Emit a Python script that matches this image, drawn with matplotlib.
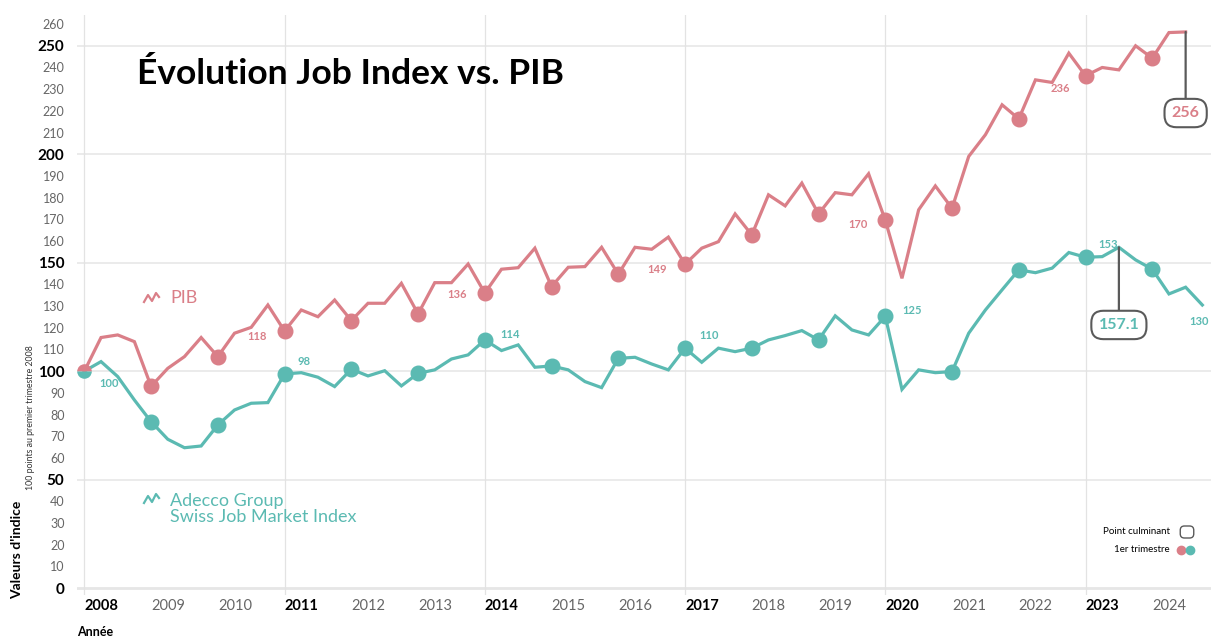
# Évolution Job Index vs. PIB
import numpy as np
import pandas as pd
import matplotlib
matplotlib.use("Agg")
import matplotlib.pyplot as plt
from matplotlib.lines import Line2D

plt.rcParams['font.family'] = ['Lato', 'DejaVu Sans']

# quarterly data, 2008Q1 = 100
quarters = pd.period_range("2008Q1", "2024Q4", freq="Q")
pib = [100, 115.5, 116.7, 113.6, 93, 101.3, 106.7, 115.5,
       106.7, 117.5, 120.2, 130.5, 118.5, 128.2, 125.1, 132.8,
       123.3, 131.3, 131.3, 140.5, 126.4, 140.8, 140.8, 149.4,
       136, 147, 147.7, 156.7, 139, 147.9, 148.2, 157.1,
       144.7, 157.1, 156.2, 161.8, 149.3, 156.7, 159.7, 172.5,
       162.8, 181.3, 176.2, 186.7, 172.5, 182.3, 181.3, 191,
       169.6, 142.8, 174.4, 185.4, 175.1, 199, 209, 222.8,
       216.3, 234.3, 233.1, 246.6, 236.2, 240, 238.9, 250,
       244.3, 256.1, 256.4]
adecco = [100, 104.4, 97.5, 86.7, 76.7, 68.6, 64.7, 65.5,
          75.2, 82.1, 85.2, 85.5, 98.7, 99.3, 97.2, 92.9,
          100.9, 97.8, 100.2, 93.2, 99, 100.6, 105.6, 107.5,
          114.4, 109.5, 112.1, 101.8, 102.4, 100.6, 95.2, 92.4,
          105.9, 106.4, 103.3, 100.6, 110.6, 104.1, 110.6, 109,
          110.6, 114.4, 116.4, 118.7, 114.4, 125.5, 119, 116.7,
          125.3, 91.6, 100.6, 99.3, 99.8, 117.5, 128.2, 137.5,
          146.7, 145.4, 147.5, 154.7, 152.5, 152.8, 157.1, 151.3,
          147, 135.6, 138.7, 130.5]

# labelled first-quarter values
pib_labels = {"2011Q1": "118", "2014Q1": "136", "2017Q1": "149",
              "2020Q1": "170", "2023Q1": "236"}
adecco_labels = {"2008Q1": "100", "2011Q1": "98", "2014Q1": "114",
                 "2017Q1": "110", "2020Q1": "125", "2023Q1": "153",
                 "2024Q4": "130"}
peaks = {"pib": ("2024Q3", "256"), "adecco": ("2023Q3", "157.1")}

RED = "#DA7F88"
TEAL = "#5BBAB2"
BOX = "#5a5a5a"

x = np.array([q.year + (q.quarter - 1) / 4 for q in quarters])
xp = x[:len(pib)]
xa = x[:len(adecco)]
q1 = np.array([q.quarter == 1 for q in quarters])

fig = plt.figure(figsize=(12.11, 6.37), dpi=100)
ax = fig.add_axes([77 / 1211, 42 / 637, 1 - 77 / 1211, (595 - 15) / 637])
ax.set_xlim(2007.89, 2024.88)
ax.set_ylim(-3.2, 264.2)
for s in ax.spines.values():
    s.set_visible(False)

# grid
for v in range(0, 251, 50):
    ax.axhline(v, color="#e6e6e6", lw=1.1 if v else 2.0, zorder=0)
for yr in range(2008, 2024, 3):
    ax.axvline(yr, color="#e3e3e3", lw=0.9, zorder=0)

ax.plot(xa, adecco, color=TEAL, lw=2.3, zorder=3, solid_joinstyle="miter")
ax.plot(xp, pib, color=RED, lw=2.3, zorder=3, solid_joinstyle="miter")
qa = q1[:len(adecco)]
qp = q1[:len(pib)]
ax.plot(xa[qa][1:], np.array(adecco)[qa][1:], "o", color=TEAL, ms=10.5, zorder=4)
ax.plot(xp[qp][1:], np.array(pib)[qp][1:], "o", color=RED, ms=10.5, zorder=4)
ax.plot(xp[0], pib[0], "o", color=RED, ms=10.5, fillstyle="top",
        markerfacecoloralt=TEAL, markeredgewidth=0, zorder=5)

qidx = {str(q): i for i, q in enumerate(quarters)}
pib_off = {"2011Q1": (-13, -4), "2014Q1": (-13, -1), "2017Q1": (-13, -4),
           "2020Q1": (-13, -3), "2023Q1": (-11, -9)}
ad_off = {"2008Q1": (11, -9), "2011Q1": (9, 9), "2014Q1": (11, 4),
          "2017Q1": (10, 9), "2020Q1": (12, 4), "2023Q1": (9, 9),
          "2024Q4": (-2, -12)}
for k, t in pib_labels.items():
    i = qidx[k]
    dx, dy = pib_off[k]
    ax.annotate(t, (x[i], pib[i]), xytext=(dx, dy), textcoords="offset points",
                ha="right" if dx < 0 else "left", va="center",
                color=RED, fontsize=8, fontweight="bold")
for k, t in adecco_labels.items():
    i = qidx[k]
    dx, dy = ad_off[k]
    ax.annotate(t, (x[i], adecco[i]), xytext=(dx, dy), textcoords="offset points",
                ha="left" if dx > 0 else "center", va="center",
                color=TEAL, fontsize=8, fontweight="bold")

# peak boxes
for key, (q, t) in peaks.items():
    i = qidx[q]
    series = pib if key == "pib" else adecco
    col = RED if key == "pib" else TEAL
    ty = 219 if key == "pib" else 121.3
    ax.annotate(t, (x[i], series[i]), xytext=(x[i], ty), textcoords="data",
                ha="center", va="center", color=col, fontsize=11.5,
                fontweight="bold", zorder=6,
                bbox=dict(boxstyle="round,pad=0.45,rounding_size=0.75",
                          fc="white", ec=BOX, lw=1.5),
                arrowprops=dict(arrowstyle="-", color=BOX, lw=1.6,
                                shrinkA=0, shrinkB=0))

# ticks
yt = list(range(0, 261, 10))
ax.set_yticks(yt)
ax.set_yticklabels([str(v) for v in yt])
for v, lab in zip(yt, ax.get_yticklabels()):
    if v % 50 == 0:
        lab.set_fontweight("bold")
        lab.set_fontsize(11)
        lab.set_color("black")
    else:
        lab.set_fontsize(9)
        lab.set_color("#666666")
years = list(range(2008, 2025))
ax.set_xticks(years)
ax.set_xticklabels([str(y) for y in years], ha="left")
for y, lab in zip(years, ax.get_xticklabels()):
    if (y - 2008) % 3 == 0:
        lab.set_fontweight("bold")
        lab.set_color("black")
    else:
        lab.set_color("#666666")
    lab.set_fontsize(10.5)
ax.tick_params(axis="y", length=0, pad=9)
ax.tick_params(axis="x", length=0, pad=3)

# texts
fig.text(137 / 1211, 1 - 74 / 637, "Évolution Job Index vs. PIB",
         fontsize=25.5, fontweight="bold", va="center", ha="left")
fig.text(170 / 1211, 1 - 298 / 637, "PIB", color=RED, fontsize=13,
         va="center", ha="left")
fig.text(170 / 1211, 1 - 509 / 637, "Adecco Group\nSwiss Job Market Index",
         color=TEAL, fontsize=13, va="center", ha="left", linespacing=1.05)
for cy, col in [(298, RED), (499, TEAL)]:
    zx = np.array([144, 148, 152, 156, 159]) / 1211
    zy = 1 - (cy + np.array([4, -3, 3, -5, -1])) / 637
    fig.add_artist(Line2D(zx, zy, color=col, lw=1.6, transform=fig.transFigure))

fig.text(17 / 1211, 1 - 550 / 637, "Valeurs d'indice", rotation=90,
         fontsize=10, fontweight="bold", ha="center", va="center")
fig.text(31 / 1211, 1 - 418 / 637, "100 points au premier trimestre 2008",
         rotation=90, fontsize=6.3, ha="center", va="center", color="#333333")
fig.text(77 / 1211, 1 - 626 / 637, "Année", fontsize=9, fontweight="bold",
         ha="left", va="top")

# small legend
fig.text(1170 / 1211, 1 - 532 / 637, "Point culminant", fontsize=7,
         ha="right", va="center")
fig.text(1170 / 1211, 1 - 550 / 637, "1er trimestre", fontsize=7,
         ha="right", va="center")
fig.text(1187 / 1211, 1 - 532 / 637, "    ", fontsize=6, ha="center", va="center",
         bbox=dict(boxstyle="round,pad=0.3,rounding_size=0.5", fc="white",
                   ec=BOX, lw=1.0))
fig.add_artist(Line2D([1181 / 1211], [1 - 550 / 637], marker="o", color=RED,
                      ms=6, transform=fig.transFigure))
fig.add_artist(Line2D([1190 / 1211], [1 - 550 / 637], marker="o", color=TEAL,
                      ms=6, transform=fig.transFigure))

fig.savefig("out.png", dpi=100)
